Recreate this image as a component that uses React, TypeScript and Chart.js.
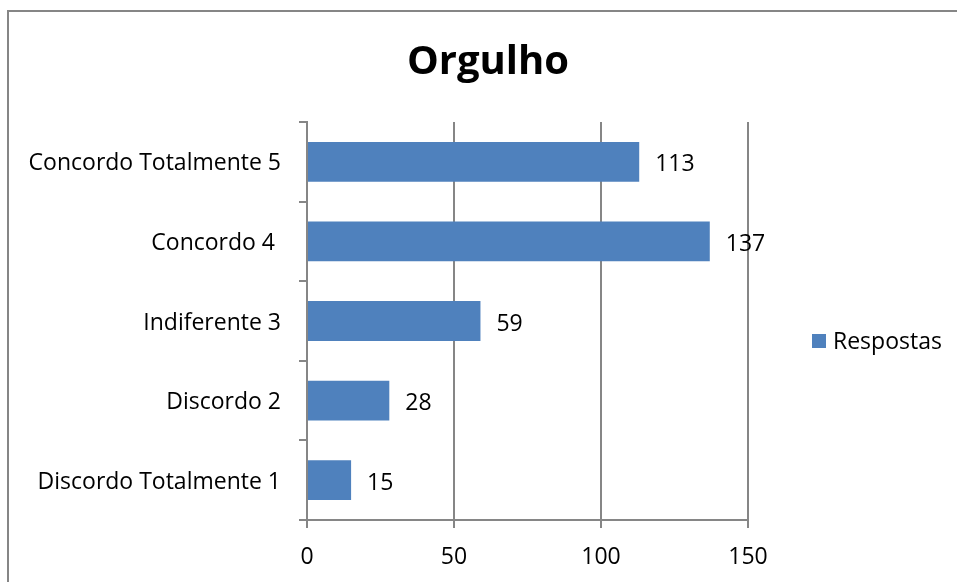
import React, { useEffect, useRef } from "react";
import { Chart, registerables } from "chart.js";

Chart.register(...registerables);

const categories = [
  "Concordo Totalmente 5",
  "Concordo 4 ",
  "Indiferente 3",
  "Discordo 2",
  "Discordo Totalmente 1",
];
const respostas = [113, 137, 59, 28, 15];
const seriesName = "Respostas";
const chartTitle = "Orgulho";
const xMin = 0;
const xMax = 150;
const xStep = 50;

const FONT = "'Open Sans', sans-serif";
const BAR = "#4F81BD";
const GRID = "#868686";
const FS = 23;

const framePlugin = {
  id: "frame",
  afterDraw(chart: any) {
    const ctx = chart.ctx;
    ctx.save();
    ctx.strokeStyle = GRID;
    ctx.lineWidth = 2;
    ctx.strokeRect(8, 11, 1100, 1100);
    ctx.fillStyle = "#000";
    ctx.font = `bold 40px ${FONT}`;
    ctx.textAlign = "center";
    ctx.textBaseline = "middle";
    ctx.fillText(chartTitle, 488, 63);
    const meta = chart.getDatasetMeta(0);
    ctx.font = `${FS}px ${FONT}`;
    ctx.textAlign = "left";
    ctx.textBaseline = "middle";
    meta.data.forEach((el: any, i: number) => {
      ctx.fillText(String(respostas[i]), el.x + 16, el.y + 3);
    });
    ctx.fillStyle = BAR;
    ctx.fillRect(812, 334, 14, 14);
    ctx.fillStyle = "#000";
    ctx.fillText(seriesName, 833, 342);
    ctx.restore();
  },
};

export default function App() {
  const ref = useRef<HTMLCanvasElement | null>(null);
  useEffect(() => {
    if (!ref.current) return;
    const chart = new Chart(ref.current, {
      type: "bar",
      data: {
        labels: categories,
        datasets: [
          {
            label: seriesName,
            data: respostas,
            backgroundColor: BAR,
            borderWidth: 0,
            barPercentage: 0.5,
            categoryPercentage: 1,
          },
        ],
      },
      options: {
        indexAxis: "y",
        animation: false,
        responsive: true,
        maintainAspectRatio: false,
        layout: { padding: { left: 0, top: 122, right: 209, bottom: 0 } },
        plugins: {
          legend: { display: false },
          title: { display: false },
          tooltip: { enabled: false },
        },
        scales: {
          x: {
            min: xMin,
            max: xMax,
            afterFit: (s: any) => {
              s.height = 62;
            },
            ticks: {
              stepSize: xStep,
              color: "#000",
              font: { family: FONT, size: FS },
              padding: 16,
            },
            grid: {
              color: GRID,
              lineWidth: 2,
              tickLength: 8,
              drawTicks: true,
            },
            border: { color: GRID, width: 2 },
          },
          y: {
            afterFit: (s: any) => {
              s.width = 307;
            },
            ticks: {
              color: "#000",
              font: { family: FONT, size: FS },
              padding: 18,
              labelOffset: 2,
            },
            grid: {
              color: GRID,
              lineWidth: 2,
              tickLength: 8,
              drawOnChartArea: false,
              offset: true,
            },
            border: { color: GRID, width: 2 },
          },
        },
      },
      plugins: [framePlugin],
    });
    return () => chart.destroy();
  }, []);
  return (
    <div style={{ position: "absolute", left: 0, top: 0, width: 957, height: 582, background: "#fff" }}>
      <canvas ref={ref} />
    </div>
  );
}
